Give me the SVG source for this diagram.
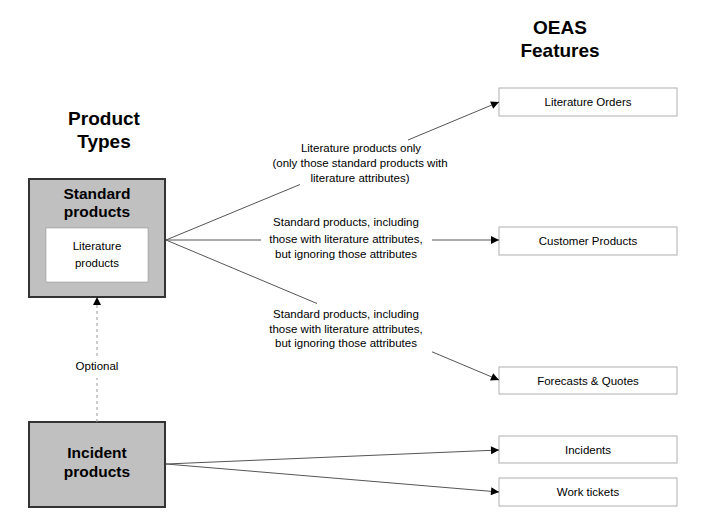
<svg xmlns="http://www.w3.org/2000/svg" width="703" height="522" viewBox="0 0 703 522">
<style>
text{font-family:"Liberation Sans",Arial,sans-serif;fill:#000;text-anchor:middle}
.h{font-size:19px;font-weight:bold}
.b{font-size:15.5px;font-weight:bold}
.s{font-size:11.5px}
.feat{fill:#fff;stroke:#b0b0b0;stroke-width:1}
.prod{fill:#c0c0c0;stroke:#333;stroke-width:2}
.c{stroke:#555;stroke-width:1;fill:none}
.d{stroke:#999;stroke-width:1;stroke-dasharray:3,3;fill:none}
</style>
<defs>
<marker id="ah" viewBox="0 0 10 10" refX="10" refY="5" markerWidth="10" markerHeight="8" markerUnits="userSpaceOnUse" orient="auto">
<path d="M0,0 L10,5 L0,10 z" fill="#000"/>
</marker>
</defs>
<g id="title-product"><text class="h" x="104" y="125">Product</text><text class="h" x="104" y="148">Types</text></g>
<g id="title-oeas"><text class="h" x="560" y="34">OEAS</text><text class="h" x="560" y="57">Features</text></g>

<g id="standard">
<rect class="prod" x="29" y="179" width="136" height="118"/>
<text class="b" x="97" y="199">Standard</text>
<text class="b" x="97" y="217">products</text>
<rect x="46" y="228" width="102" height="54" fill="#fff" stroke="#888" stroke-width="0.5"/>
<text class="s" x="97" y="250">Literature</text>
<text class="s" x="97" y="267">products</text>
</g>
<g id="incident">
<rect class="prod" x="29" y="422" width="136" height="85"/>
<text class="b" x="97" y="458">Incident</text>
<text class="b" x="97" y="477">products</text>
</g>

<g id="lit-orders"><rect class="feat" x="499" y="88" width="178" height="28"/><text class="s" x="588" y="106">Literature Orders</text></g>
<g id="cust-products"><rect class="feat" x="499" y="227" width="178" height="28"/><text class="s" x="588" y="245">Customer Products</text></g>
<g id="forecasts"><rect class="feat" x="499" y="367" width="178" height="27"/><text class="s" x="588" y="385">Forecasts &amp; Quotes</text></g>
<g id="incidents"><rect class="feat" x="499" y="436" width="178" height="27"/><text class="s" x="588" y="454">Incidents</text></g>
<g id="work-tickets"><rect class="feat" x="499" y="478" width="178" height="28"/><text class="s" x="588" y="496">Work tickets</text></g>

<g id="connectors">
<line class="c" x1="166" y1="240" x2="300" y2="184.5"/>
<line class="c" x1="408" y1="140" x2="499" y2="102" marker-end="url(#ah)"/>
<line class="c" x1="166" y1="240" x2="261" y2="240"/>
<line class="c" x1="432" y1="240" x2="499" y2="240" marker-end="url(#ah)"/>
<line class="c" x1="166" y1="240" x2="317" y2="303.5"/>
<line class="c" x1="432" y1="351.8" x2="499" y2="380" marker-end="url(#ah)"/>
<line class="c" x1="166" y1="464" x2="499" y2="450" marker-end="url(#ah)"/>
<line class="c" x1="166" y1="464" x2="499" y2="492" marker-end="url(#ah)"/>
<line class="d" x1="97" y1="422" x2="97" y2="378"/>
<line class="d" x1="97" y1="356" x2="97" y2="297" marker-end="url(#ah)"/>
<text class="s" x="361" y="152">Literature products only</text>
<text class="s" x="360" y="167">(only those standard products with</text>
<text class="s" x="360" y="182">literature attributes)</text>
<text class="s" x="346" y="226">Standard products, including</text>
<text class="s" x="346" y="243">those with literature attributes,</text>
<text class="s" x="346" y="258">but ignoring  those attributes</text>
<text class="s" x="346" y="318">Standard products, including</text>
<text class="s" x="346" y="333">those with literature attributes,</text>
<text class="s" x="346" y="347">but ignoring  those attributes</text>
<text class="s" x="97" y="370">Optional</text>
</g>
</svg>
